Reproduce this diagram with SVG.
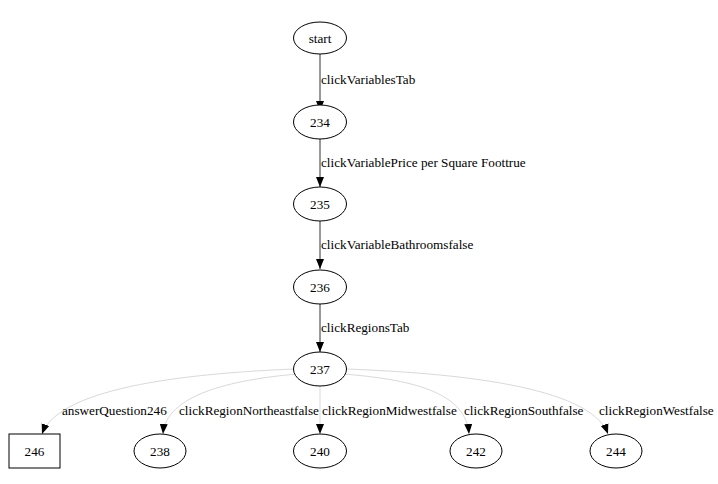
<svg xmlns="http://www.w3.org/2000/svg" width="718" height="484" viewBox="0 0 718 484">
<defs>
<style>
.n{fill:#fff;stroke:#000;stroke-width:1}
.t{font-family:"Liberation Serif",serif;font-size:13.2px;fill:#000}
.c{text-anchor:middle}
.e{fill:none;stroke:#333;stroke-width:1}
.g{fill:none;stroke:#d9d9d9;stroke-width:1}
</style>
<marker id="a" viewBox="0 0 10 10" refX="10" refY="5" markerWidth="10" markerHeight="10" markerUnits="userSpaceOnUse" orient="auto">
<path d="M0,1 L10,5 L0,9 Z" fill="#000"/>
</marker>
</defs>
<rect width="718" height="484" fill="#fff"/>
<g id="connectors">
<path class="e" d="M320,54 V111" marker-end="url(#a)"/>
<text class="t" x="321" y="84">clickVariablesTab</text>
<path class="e" d="M320,139 V187" marker-end="url(#a)"/>
<text class="t" x="321" y="167">clickVariablePrice per Square Foottrue</text>
<path class="e" d="M320,221 V269" marker-end="url(#a)"/>
<text class="t" x="321" y="249">clickVariableBathroomsfalse</text>
<path class="e" d="M320,304 V352" marker-end="url(#a)"/>
<text class="t" x="321" y="332">clickRegionsTab</text>
<path class="g" d="M294,369 C200,373 60,385 42,434" marker-end="url(#a)"/>
<text class="t" x="62" y="415">answerQuestion246</text>
<path class="g" d="M297,374 C230,380 166,395 163,434" marker-end="url(#a)"/>
<text class="t" x="179" y="415">clickRegionNortheastfalse</text>
<path class="g" d="M320,386 V434" marker-end="url(#a)"/>
<text class="t" x="322" y="415">clickRegionMidwestfalse</text>
<path class="g" d="M343,374 C420,380 466,395 469,434" marker-end="url(#a)"/>
<text class="t" x="464" y="415">clickRegionSouthfalse</text>
<path class="g" d="M346,369 C450,373 590,385 608,434" marker-end="url(#a)"/>
<text class="t" x="599" y="415">clickRegionWestfalse</text>
</g>
<g id="start"><ellipse class="n" cx="320" cy="38" rx="26.5" ry="16"/><text class="t c" x="320" y="43">start</text></g>
<g id="n234"><ellipse class="n" cx="320" cy="122" rx="26.5" ry="17"/><text class="t c" x="320" y="127">234</text></g>
<g id="n235"><ellipse class="n" cx="320" cy="204" rx="26.5" ry="17"/><text class="t c" x="320" y="209">235</text></g>
<g id="n236"><ellipse class="n" cx="320" cy="287" rx="26.5" ry="17"/><text class="t c" x="320" y="292">236</text></g>
<g id="n237"><ellipse class="n" cx="320" cy="369" rx="26.5" ry="17"/><text class="t c" x="320" y="374">237</text></g>
<g id="n246"><rect class="n" x="9" y="434" width="51" height="34"/><text class="t c" x="34.5" y="456">246</text></g>
<g id="n238"><ellipse class="n" cx="160" cy="451" rx="26" ry="17"/><text class="t c" x="160" y="456">238</text></g>
<g id="n240"><ellipse class="n" cx="320" cy="451" rx="26.5" ry="17"/><text class="t c" x="320" y="456">240</text></g>
<g id="n242"><ellipse class="n" cx="476" cy="451" rx="26" ry="17"/><text class="t c" x="476" y="456">242</text></g>
<g id="n244"><ellipse class="n" cx="616" cy="451" rx="26" ry="17"/><text class="t c" x="616" y="456">244</text></g>
</svg>
